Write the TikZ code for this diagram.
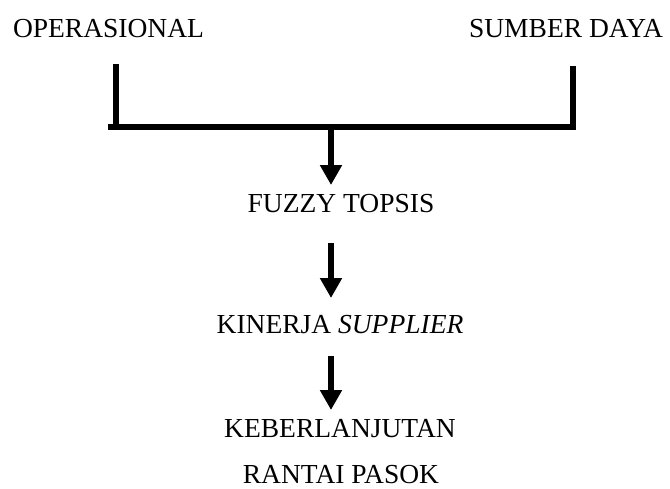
\documentclass[tikz,border=0pt]{standalone}
\usepackage{fontspec}
\setmainfont{Liberation Serif}
\usetikzlibrary{arrows.meta}
\begin{document}
\begin{tikzpicture}[x=1pt,y=-1pt,
  lbl/.style={anchor=base,inner sep=0pt,font=\fontsize{27.5}{33}\selectfont},
  bar/.style={line width=6pt},
  darrow/.style={line width=6pt,-{Triangle[width=21pt,length=20pt]}}]
\useasboundingbox (0,0) rectangle (670,488);
\node[lbl] (op) at (108.5,37) {OPERASIONAL};
\node[lbl] (sd) at (566,37) {SUMBER DAYA};
\node[lbl] (ft) at (341,212) {FUZZY TOPSIS};
\node[lbl] (ks) at (340,333) {KINERJA \textit{SUPPLIER}};
\node[lbl] (kb) at (340,437) {KEBERLANJUTAN};
\node[lbl] (rp) at (341,483) {RANTAI PASOK};
% bracket
\coordinate (lt) at (115.5,64);
\coordinate (lb) at (115.5,127);
\coordinate (rt) at (573,66);
\coordinate (rb) at (573,127);
\coordinate (hl) at (108,127);
\coordinate (hr) at (576,127);
\coordinate (mid) at (331,127);
\draw[bar] (lt) -- (lb);
\draw[bar] (rt) -- (rb);
\draw[bar] (hl) -- (hr);
% arrows
\coordinate (a1e) at (331,185);
\coordinate (a2s) at (331,243);
\coordinate (a2e) at (331,298);
\coordinate (a3s) at (331,356);
\coordinate (a3e) at (331,410);
\draw[darrow] (mid) -- (a1e);
\draw[darrow] (a2s) -- (a2e);
\draw[darrow] (a3s) -- (a3e);
\end{tikzpicture}
\end{document}
